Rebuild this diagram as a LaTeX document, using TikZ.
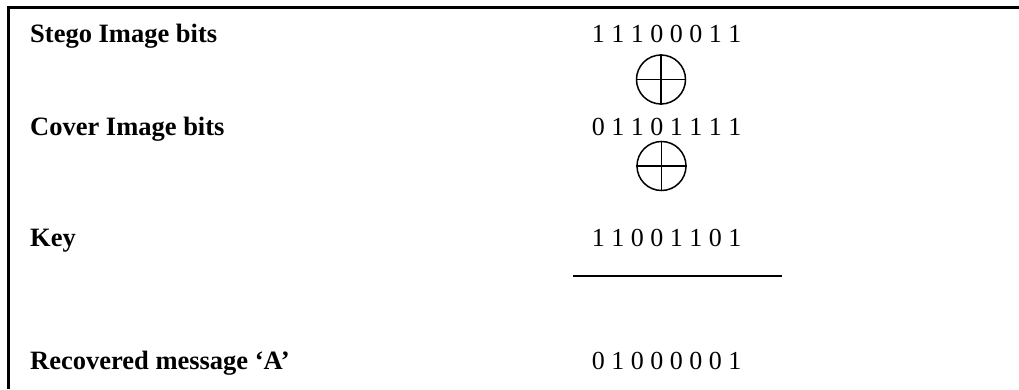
\documentclass[tikz,border=0pt]{standalone}
\usepackage{fontspec}
\setmainfont{Liberation Serif}
\usepackage{tikz}
\usetikzlibrary{positioning}
\tikzset{
  rowlabel/.style={
    inner sep=0pt, anchor=base west,
    font=\fontsize{26.5}{30}\selectfont\bfseries
  },
  bitrow/.style={
    inner sep=0pt, anchor=base,
    font=\fontsize{26}{30}\selectfont
  },
  xorsym/.style={
    circle, draw, line width=1.5pt, inner sep=0pt,
    minimum size=#1
  },
  xorsym/.default=49pt,
  framerule/.style={line width=2.6pt},
  sumrule/.style={line width=1.5pt}
}

\begin{document}
\begin{tikzpicture}[x=1pt, y=1pt]
\useasboundingbox (0,0) rectangle (1019,389);
% frame: top and left edges only
\coordinate (framebl) at (8.5,0);
\coordinate (frametr) at (1019,381.5);
\draw[framerule] (framebl) |- (frametr);

% labels on the left
\node[rowlabel] (stegolbl) at (30,346) {Stego Image bits};
\node[rowlabel] (coverlbl) at (30,254) {Cover Image bits};
\node[rowlabel] (keylbl)   at (30,143) {Key};
\node[rowlabel] (msglbl)   at (30,20)  {Recovered message ‘A’};

% bit strings
\node[bitrow] (stegobits) at (666.5,346) {1 1 1 0 0 0 1 1};
\node[bitrow] (coverbits) at (666.5,254) {0 1 1 0 1 1 1 1};
\node[bitrow] (keybits)   at (666.5,143) {1 1 0 0 1 1 0 1};
\node[bitrow] (msgbits)   at (666.5,20)  {0 1 0 0 0 0 0 1};

% xor signs
\node[xorsym] (xorone) at (661,309.5) {};
\node[xorsym] (xortwo) at (661.5,223) {};
\foreach \x in {xorone,xortwo} {
  \draw[line width=1.5pt] (\x.north) -- (\x.south);
  \draw[line width=1.5pt] (\x.west) -- (\x.east);
}

% result rule
\coordinate (rulel) at (573,113);
\coordinate (ruler) at (782,113);
\draw[sumrule] (rulel) -- (ruler);
\end{tikzpicture}
\end{document}
